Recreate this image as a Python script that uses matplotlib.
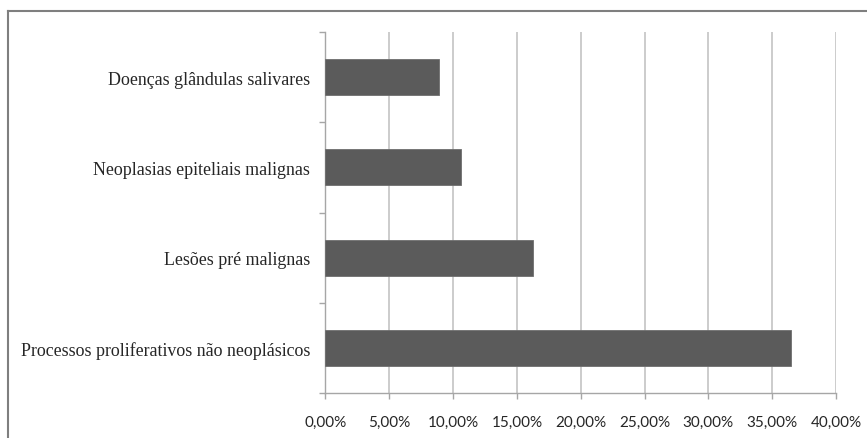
import matplotlib
matplotlib.use("Agg")
import matplotlib.pyplot as plt
from matplotlib.lines import Line2D
from matplotlib.ticker import FixedLocator

# Categories listed bottom to top, shares in percent
categories = [
    "Processos proliferativos não neoplásicos",
    "Lesões pré malignas",
    "Neoplasias epiteliais malignas",
    "Doenças glândulas salivares",
]
shares = [36.5, 16.25, 10.6, 8.9]
x_ticks = [0, 5, 10, 15, 20, 25, 30, 35, 40]
x_tick_labels = ["0,00%", "5,00%", "10,00%", "15,00%", "20,00%",
                 "25,00%", "30,00%", "35,00%", "40,00%"]

bar_color = "#5b5b5b"
grid_color = "#c3c3c3"
axis_color = "#a6a6a6"
text_color = "#262626"

fig = plt.figure(figsize=(8.67, 4.39), dpi=100)
fig.patch.set_facecolor("white")
ax = fig.add_axes([0.3754, 0.1025, 0.5888, 0.8223])

positions = list(range(len(categories)))
ax.barh(positions, shares, height=0.4, color=bar_color,
        edgecolor="#6e6e6e", linewidth=0.6, zorder=3)

ax.set_xlim(0, 40)
ax.set_ylim(-0.5, len(categories) - 0.5)

ax.set_xticks(x_ticks)
ax.set_xticklabels(x_tick_labels, fontfamily="Lato", fontsize=11,
                   color=text_color)
ax.xaxis.grid(True, color=grid_color, linewidth=1.2, zorder=0)
ax.set_axisbelow(True)

ax.set_yticks(positions)
ax.set_yticklabels(categories, fontfamily="Liberation Serif", fontsize=12.9,
                   color=text_color)
ax.yaxis.set_minor_locator(FixedLocator([p - 0.5 for p in positions] +
                                        [len(categories) - 0.5]))
ax.tick_params(axis="y", which="major", length=0, pad=11)
ax.tick_params(axis="y", which="minor", length=4, width=1.0,
               color=axis_color, direction="out")
ax.tick_params(axis="x", which="major", length=4, width=1.0,
               color=axis_color, direction="out", pad=11.5)

for side in ("top", "right"):
    ax.spines[side].set_visible(False)
for side in ("left", "bottom"):
    ax.spines[side].set_color(axis_color)
    ax.spines[side].set_linewidth(1.0)

# Chart-area frame (top and left edges)
frame_color = "#7f7f7f"
fig.add_artist(Line2D([8 / 867, 1.0], [1 - 12 / 439, 1 - 12 / 439],
                      transform=fig.transFigure, color=frame_color,
                      linewidth=1.5))
fig.add_artist(Line2D([8 / 867, 8 / 867], [0.0, 1 - 12 / 439],
                      transform=fig.transFigure, color=frame_color,
                      linewidth=1.5))

fig.savefig("out.png", dpi=100, facecolor="white")
